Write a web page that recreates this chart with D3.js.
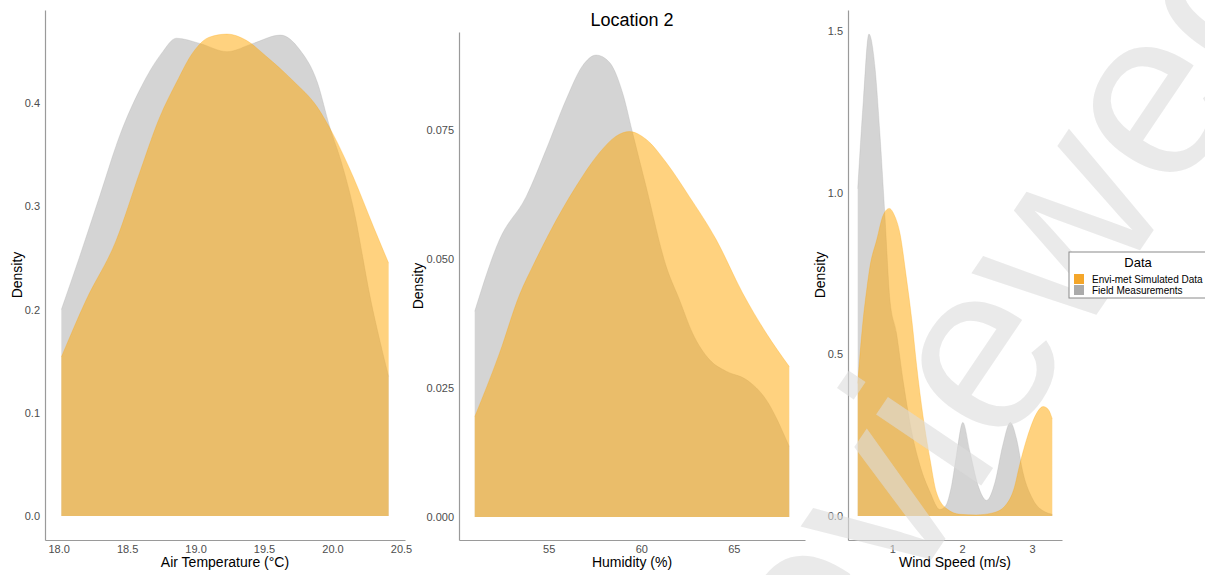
<!DOCTYPE html>
<html>
<head>
<meta charset="utf-8">
<script src="https://cdn.jsdelivr.net/npm/d3@7"></script>
<style>
  body { margin: 0; background: #fff; }
  svg { display: block; font-family: "Liberation Sans", Arial, sans-serif; }
</style>
</head>
<body>
<div id="chart"></div>
<script>
// density curves: [value, density]
var tempField = [[18.02,0.200],[18.15,0.25],[18.3,0.31],[18.45,0.37],[18.6,0.415],[18.75,0.448],[18.86,0.463],
  [19.03,0.458],[19.23,0.450],[19.42,0.458],[19.62,0.466],[19.76,0.452],[19.89,0.420],[19.98,0.377],[20.06,0.345],
  [20.15,0.300],[20.28,0.209],[20.41,0.135]];
var tempEnvi = [[18.02,0.154],[18.2,0.209],[18.42,0.267],[18.59,0.332],[18.74,0.387],[18.86,0.420],[18.98,0.449],
  [19.1,0.464],[19.23,0.467],[19.37,0.461],[19.52,0.445],[19.71,0.422],[19.89,0.396],[20.0,0.371],[20.15,0.329],
  [20.3,0.280],[20.41,0.245]];

var humField = [[51.0,0.0398],[52.34,0.0537],[53.78,0.062],[54.86,0.0711],[55.94,0.0808],[56.82,0.0873],[57.56,0.0894],
  [58.28,0.088],[59.0,0.082],[59.53,0.0744],[60.26,0.064],[61.35,0.0485],[62.07,0.042],[62.77,0.0356],[63.7,0.0304],
  [64.59,0.0282],[65.67,0.0266],[66.75,0.0227],[68.0,0.0136]];
var humEnvi = [[51.0,0.0194],[52.34,0.0317],[53.42,0.043],[54.2,0.049],[55.04,0.055],[56.48,0.064],[57.74,0.0705],
  [58.64,0.0737],[59.36,0.0746],[60.26,0.0731],[61.35,0.0686],[62.6,0.062],[64.05,0.0537],[65.47,0.0434],
  [66.75,0.0356],[68.0,0.0291]];

var windField = [[0.506,1.012],[0.586,1.284],[0.666,1.49],[0.753,1.387],[0.824,1.18],[0.896,0.925],[0.967,0.668],
  [1.06,0.566],[1.16,0.412],[1.28,0.258],[1.4,0.154],[1.54,0.074],[1.68,0.02],[1.76,0.03],[1.85,0.095],[1.92,0.19],
  [2.01,0.289],[2.11,0.2],[2.23,0.093],[2.35,0.048],[2.47,0.104],[2.58,0.217],[2.69,0.289],[2.78,0.237],[2.87,0.135],
  [3.01,0.052],[3.2,0.011],[3.29,0.005]];
var windEnvi = [[0.506,0.41],[0.58,0.6],[0.634,0.699],[0.681,0.771],[0.777,0.853],[0.87,0.93],[0.957,0.951],
  [1.03,0.93],[1.11,0.874],[1.2,0.74],[1.28,0.606],[1.35,0.463],[1.44,0.309],[1.54,0.176],[1.63,0.074],[1.78,0.022],
  [1.97,0.005],[2.2,0.003],[2.45,0.01],[2.63,0.035],[2.75,0.09],[2.82,0.155],[2.9,0.22],[2.97,0.268],[3.06,0.315],
  [3.16,0.338],[3.23,0.33],[3.29,0.30]];

var tempTicksX = [18.0, 18.5, 19.0, 19.5, 20.0, 20.5];
var tempTicksY = [0, 0.1, 0.2, 0.3, 0.4];
var humTicksX = [55, 60, 65];
var humTicksY = [0, 0.025, 0.05, 0.075];
var windTicksX = [1, 2, 3];
var windTicksY = [0, 0.5, 1.0, 1.5];

var seriesNames = ["Envi-met Simulated Data", "Field Measurements"];
var legendTitle = "Data";
var chartTitle = "Location 2";

var W = 1205, H = 575;
var orange = "#FFA500", grey = "#A9A9A9";

var svg = d3.select("#chart").append("svg")
  .attr("width", W).attr("height", H);

var panels = [
  { field: tempField, envi: tempEnvi, tx: tempTicksX, ty: tempTicksY, fx: ".1f", fy: ".1f",
    xlab: "Air Temperature (\u00B0C)", box: [45, 405, 10, 540], ylabOff: 28 },
  { field: humField, envi: humEnvi, tx: humTicksX, ty: humTicksY, fx: "d", fy: ".3f",
    xlab: "Humidity (%)", box: [459, 805, 32, 540], ylabOff: 41 },
  { field: windField, envi: windEnvi, tx: windTicksX, ty: windTicksY, fx: "d", fy: ".1f",
    xlab: "Wind Speed (m/s)", box: [848, 1062, 10, 540], ylabOff: 28 }
];

function expand(ext) {
  var pad = (ext[1] - ext[0]) * 0.05;
  return [ext[0] - pad, ext[1] + pad];
}

panels.forEach(function(p) {
  var all = p.field.concat(p.envi);
  var x = d3.scaleLinear()
    .domain(expand(d3.extent(all, function(d) { return d[0]; })))
    .range([p.box[0], p.box[1]]);
  var y = d3.scaleLinear()
    .domain(expand([0, d3.max(all, function(d) { return d[1]; })]))
    .range([p.box[3], p.box[2]]);

  var g = svg.append("g");

  var area = d3.area()
    .x(function(d) { return x(d[0]); })
    .y0(y(0))
    .y1(function(d) { return y(d[1]); })
    .curve(d3.curveMonotoneX);
  var line = d3.line()
    .x(function(d) { return x(d[0]); })
    .y(function(d) { return y(d[1]); })
    .curve(d3.curveMonotoneX);

  [[p.field, grey], [p.envi, orange]].forEach(function(s) {
    g.append("path").datum(s[0])
      .attr("d", area)
      .attr("fill", s[1]).attr("fill-opacity", 0.5);
    g.append("path").datum(s[0])
      .attr("d", line)
      .attr("fill", "none").attr("stroke", s[1])
      .attr("stroke-opacity", 0.45).attr("stroke-width", 0.6);
  });

  var xAxis = g.append("g")
    .attr("transform", "translate(0," + p.box[3] + ")")
    .call(d3.axisBottom(x).tickValues(p.tx).tickFormat(d3.format(p.fx))
      .tickSize(0).tickPadding(5));
  var yAxis = g.append("g")
    .attr("transform", "translate(" + p.box[0] + ",0)")
    .call(d3.axisLeft(y).tickValues(p.ty).tickFormat(d3.format(p.fy))
      .tickSize(0).tickPadding(5));

  [xAxis, yAxis].forEach(function(a) {
    a.select(".domain").attr("stroke", "#9a9a9a").attr("stroke-width", 1.2);
    a.selectAll("text").attr("fill", "#4d4d4d").style("font-size", "11px");
  });

  g.append("text")
    .attr("x", (p.box[0] + p.box[1]) / 2)
    .attr("y", 567)
    .attr("text-anchor", "middle")
    .style("font-size", "14px")
    .text(p.xlab);

  g.append("text")
    .attr("transform", "translate(" + (p.box[0] - p.ylabOff + 5) + "," + ((p.box[2] + p.box[3]) / 2) + ") rotate(-90)")
    .attr("text-anchor", "middle")
    .style("font-size", "14px")
    .text("Density");
});

svg.append("text")
  .attr("x", 632).attr("y", 26)
  .attr("text-anchor", "middle")
  .style("font-size", "18px")
  .text(chartTitle);

// watermark (behind the legend box)
svg.append("text")
  .attr("transform", "translate(1323,-21) rotate(-56)")
  .attr("text-anchor", "end")
  .attr("fill", "#dcdcdc").attr("fill-opacity", 0.6)
  .style("font-size", "240px")
  .text("Preprint not peer reviewed");

// legend
var lg = svg.append("g").attr("transform", "translate(1069,252)");
lg.append("rect")
  .attr("width", 150).attr("height", 46)
  .attr("fill", "#fff").attr("stroke", "#8a8a8a").attr("stroke-width", 1);
lg.append("text")
  .attr("x", 69).attr("y", 15)
  .attr("text-anchor", "middle")
  .style("font-size", "13px")
  .text(legendTitle);
var keyColours = ["#F4A62A", "#ABABAB"];
seriesNames.forEach(function(name, i) {
  lg.append("rect")
    .attr("x", 5).attr("y", 22 + i * 11)
    .attr("width", 10).attr("height", 10)
    .attr("fill", keyColours[i]);
  lg.append("text")
    .attr("x", 23).attr("y", 31 + i * 11)
    .style("font-size", "10px")
    .text(name);
});
</script>
</body>
</html>
